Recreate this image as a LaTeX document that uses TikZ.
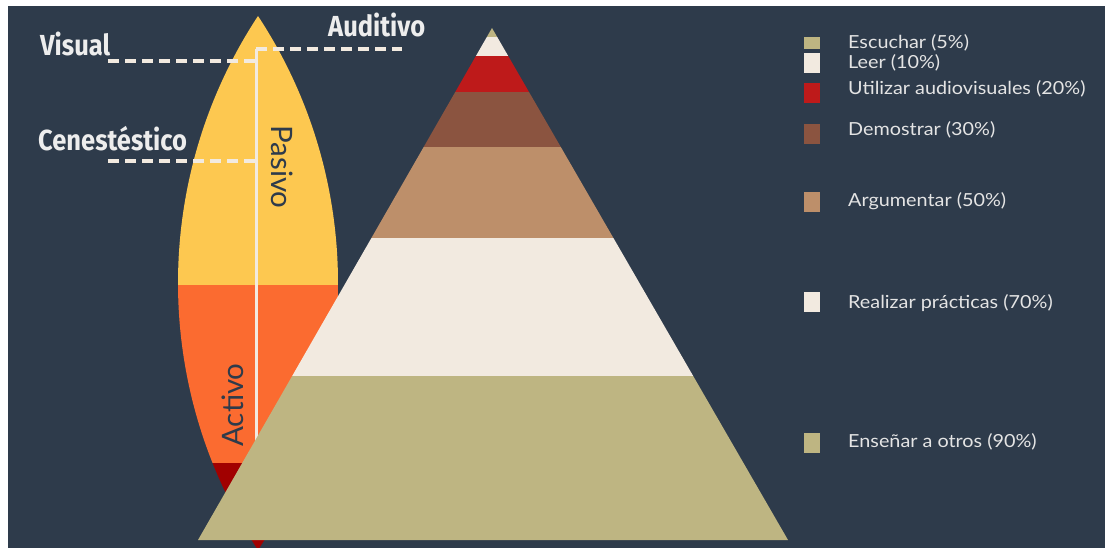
\documentclass[tikz,border=0pt]{standalone}
\usepackage{fontspec}
\setmainfont{Lato}
\newfontfamily\condfont[FakeStretch=0.88]{Fira Sans}
\newfontfamily\legfont[FakeStretch=1.1]{Lato}
\usetikzlibrary{calc}
\definecolor{bgdark}{HTML}{2E3B4B}
\definecolor{leafyellow}{HTML}{FDC850}
\definecolor{leaforange}{HTML}{FB6B30}
\definecolor{leafred}{HTML}{A10000}
\definecolor{linecream}{HTML}{F2EAE0}
\definecolor{pkhaki}{HTML}{BEB582}
\definecolor{pcream}{HTML}{F2EAE0}
\definecolor{pred}{HTML}{BE1A1A}
\definecolor{pbrown}{HTML}{8B5440}
\definecolor{ptan}{HTML}{BD8F6A}
\definecolor{legtext}{HTML}{E4E4E4}
\tikzset{
  biglabel/.style={text=white!93!black, font=\condfont\bfseries\fontsize{29}{31}\selectfont, inner sep=0pt},
  axislabel/.style={text=bgdark, font=\fontsize{29.5}{32}\selectfont, inner sep=0pt},
  guide/.style={draw=linecream, line width=3.5pt, dash pattern=on 11pt off 6pt},
  axisline/.style={draw=linecream, line width=3pt},
  legbox/.style={inner sep=0pt, minimum width=16pt, minimum height=20pt},
  legtxt/.style={text=legtext, font=\legfont\fontsize{18}{20}\selectfont, anchor=west, inner sep=0pt}
}
\begin{document}
\begin{tikzpicture}[x=1pt,y=-1pt]
\useasboundingbox (0,0) rectangle (1105,548);
\fill[white] (0,0) rectangle (1105,548);
\fill[bgdark] (8,6) rectangle (1105,548);

% leaf (lens)
\begin{scope}
\clip (258,16) arc[start angle=146.64, end angle=213.36, radius=485.6pt]
      arc[start angle=-33.36, end angle=33.36, radius=485.6pt] -- cycle;
\fill[leafyellow] (170,10) rectangle (345,285);
\fill[leaforange] (170,285) rectangle (345,463);
\fill[leafred] (170,463) rectangle (345,560);
\end{scope}

% guide lines
\coordinate (axtop) at (256,49);
\coordinate (axbot) at (256,470);
\coordinate (visL) at (108,61);
\coordinate (visR) at (256,61);
\coordinate (audR) at (402,49);
\coordinate (cenL) at (108,161);
\coordinate (cenR) at (256,161);
\draw[axisline] (axtop) -- (axbot);
\draw[guide] (visL) -- (visR);
\draw[guide] (axtop) -- (audR);
\draw[guide] (cenL) -- (cenR);

\node[biglabel, anchor=west] (visual) at (40,44) {Visual};
\node[biglabel, anchor=west] (auditivo) at (328,25) {Auditivo};
\node[biglabel, anchor=west] (cenes) at (38,139) {Cenestéstico};

\node[axislabel, rotate=-90] (pasivo) at (282,167) {Pasivo};
\node[axislabel, rotate=90] (activo) at (233,405) {Activo};

% pyramid
\begin{scope}
\clip (492,28) -- (788,540) -- (198,540) -- cycle;
\fill[pkhaki] (190,20) rectangle (800,37);
\fill[pcream] (190,37) rectangle (800,56);
\fill[pred] (190,56) rectangle (800,92);
\fill[pbrown] (190,92) rectangle (800,147);
\fill[ptan] (190,147) rectangle (800,238);
\fill[pcream] (190,238) rectangle (800,376);
\fill[pkhaki] (190,376) rectangle (800,541);
\end{scope}

% legend
\node[legbox, fill=pkhaki, minimum height=12pt] (b1) at (811.5,43) {};
\node[legbox, fill=pcream] (b2) at (811.5,63) {};
\node[legbox, fill=pred] (b3) at (811.5,93) {};
\node[legbox, fill=pbrown] (b4) at (811.5,134) {};
\node[legbox, fill=ptan] (b5) at (811.5,202) {};
\node[legbox, fill=pcream] (b6) at (811.5,302) {};
\node[legbox, fill=pkhaki] (b7) at (811.5,443) {};

\node[legtxt] (t1) at (848,43) {Escuchar (5\%)};
\node[legtxt] (t2) at (848,63) {Leer (10\%)};
\node[legtxt] (t3) at (848,89) {Utilizar audiovisuales (20\%)};
\node[legtxt] (t4) at (848,130) {Demostrar (30\%)};
\node[legtxt] (t5) at (848,201) {Argumentar (50\%)};
\node[legtxt] (t6) at (848,303) {Realizar prácticas (70\%)};
\node[legtxt] (t7) at (848,442) {Enseñar a otros (90\%)};
\end{tikzpicture}
\end{document}
